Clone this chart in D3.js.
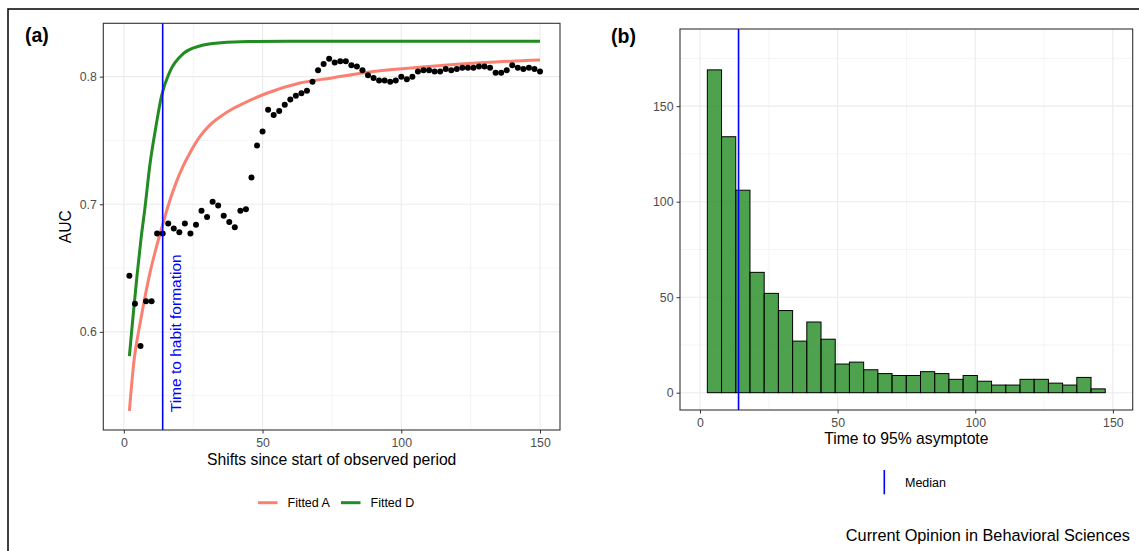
<!DOCTYPE html>
<html>
<head>
<meta charset="utf-8">
<script src="https://cdn.jsdelivr.net/npm/d3@7"></script>
<style>
body { margin: 0; background: #fff; }
svg { font-family: "Liberation Sans", Arial, sans-serif; }
.grid-major { stroke: #ebebeb; stroke-width: 1.1; }
.grid-minor { stroke: #ebebeb; stroke-width: 0.55; }
.axis text { fill: #4d4d4d; font-size: 12.3px; font-family: "Liberation Sans", Arial, sans-serif; }
.axis line { stroke: #333; stroke-width: 1; }
.axis .domain { display: none; }
.panel-border { fill: none; stroke: #333; stroke-width: 1.1; }
.title { fill: #000; font-size: 15.7px; }
.legend-text { fill: #000; font-size: 12.5px; }
</style>
</head>
<body>
<svg id="chart" width="1139" height="551"></svg>
<script>
// ---- panel (a): observed AUC by shift ----
const shifts = [2, 4, 6, 8, 10, 12, 14, 16, 18, 20, 22, 24, 26, 28, 30, 32, 34, 36, 38, 40,
    42, 44, 46, 48, 50, 52, 54, 56, 58, 60, 62, 64, 66, 68, 70, 72, 74, 76, 78, 80,
    82, 84, 86, 88, 90, 92, 94, 96, 98, 100, 102, 104, 106, 108, 110, 112, 114, 116, 118, 120,
    122, 124, 126, 128, 130, 132, 134, 136, 138, 140, 142, 144, 146, 148, 150];
const auc = [0.644, 0.622, 0.589, 0.624, 0.624, 0.677, 0.677, 0.685, 0.681, 0.678,
    0.685, 0.677, 0.684, 0.695, 0.690, 0.702, 0.699, 0.691, 0.686, 0.682,
    0.695, 0.696, 0.721, 0.746, 0.757, 0.774, 0.770, 0.773, 0.778, 0.782,
    0.785, 0.787, 0.789, 0.796, 0.805, 0.810, 0.814, 0.811, 0.812, 0.812,
    0.809, 0.808, 0.805, 0.801, 0.799, 0.797, 0.797, 0.796, 0.797, 0.800,
    0.798, 0.800, 0.804, 0.805, 0.805, 0.804, 0.804, 0.806, 0.805, 0.806,
    0.807, 0.807, 0.807, 0.808, 0.808, 0.807, 0.803, 0.803, 0.805, 0.809,
    0.807, 0.806, 0.807, 0.806, 0.804];

// fitted curves
const fitA_x = [2, 3.7, 5.8, 7.6, 9.4, 11.8, 14, 16, 18.5, 21.4, 24, 27.4, 31, 35, 39.4, 45, 51.5, 63.5, 75, 90, 110, 130, 150];
const fitA_y = [0.538, 0.578, 0.606, 0.627, 0.646, 0.667, 0.684, 0.699, 0.715, 0.730, 0.741, 0.753, 0.762, 0.769, 0.775, 0.781, 0.787, 0.795, 0.799, 0.804, 0.808, 0.811, 0.813];
const fitD_x = [2, 3.4, 4.8, 6.2, 7.6, 9.4, 11.5, 13.6, 16.6, 21.4, 27.4, 35, 45, 60, 100, 150];
const fitD_y = [0.581, 0.614, 0.645, 0.673, 0.697, 0.731, 0.760, 0.785, 0.804, 0.818, 0.824, 0.8265, 0.8275, 0.8277, 0.8277, 0.8277];

const habitTime = 14;
const aXTicks = [0, 50, 100, 150];
const aYTicks = [0.6, 0.7, 0.8];

// ---- panel (b): histogram of time to 95% asymptote ----
const binStart = 2.66;   // first break
const binWidth = 5.163;
const binCounts = [169, 134, 106, 63, 52, 43, 27, 37, 28, 15, 16, 12, 10, 9, 9, 11, 10, 7, 9, 6,
    4, 4, 7, 7, 5, 4, 8, 2];
const medianTime = 14;
const bXTicks = [0, 50, 100, 150];
const bYTicks = [0, 50, 100, 150];

const col = {A: "#fa8072", D: "#228b22", median: "#0000ff"};

const svg = d3.select("#chart");

// outer frame of the figure
svg.append("path")
    .attr("d", "M8,551V9H1139")
    .attr("fill", "none")
    .attr("stroke", "#000")
    .attr("stroke-width", 1.5);

function minorOf(ticks) {
    const out = [];
    for (let i = 0; i < ticks.length - 1; i++) out.push((ticks[i] + ticks[i + 1]) / 2);
    const step = ticks[1] - ticks[0];
    out.unshift(ticks[0] - step / 2);
    out.push(ticks[ticks.length - 1] + step / 2);
    return out;
}

function drawGrid(g, x, y, xTicks, yTicks) {
    const [x0, x1] = x.range();
    const [y0, y1] = y.range();
    const inX = v => x(v) >= x0 && x(v) <= x1;
    const inY = v => y(v) <= y0 && y(v) >= y1;

    g.selectAll(".gx-minor").data(minorOf(xTicks).filter(inX)).join("line")
        .attr("class", "grid-minor")
        .attr("x1", d => x(d)).attr("x2", d => x(d)).attr("y1", y0).attr("y2", y1);
    g.selectAll(".gy-minor").data(minorOf(yTicks).filter(inY)).join("line")
        .attr("class", "grid-minor")
        .attr("y1", d => y(d)).attr("y2", d => y(d)).attr("x1", x0).attr("x2", x1);
    g.selectAll(".gx-major").data(xTicks.filter(inX)).join("line")
        .attr("class", "grid-major")
        .attr("x1", d => x(d)).attr("x2", d => x(d)).attr("y1", y0).attr("y2", y1);
    g.selectAll(".gy-major").data(yTicks.filter(inY)).join("line")
        .attr("class", "grid-major")
        .attr("y1", d => y(d)).attr("y2", d => y(d)).attr("x1", x0).attr("x2", x1);
}

function drawAxes(g, x, y, xTicks, yTicks, yFormat) {
    const [x0] = x.range();
    const [y0] = y.range();
    g.append("g")
        .attr("class", "axis")
        .attr("transform", `translate(0,${y0})`)
        .call(d3.axisBottom(x).tickValues(xTicks).tickSize(3.5).tickPadding(4.5));
    g.append("g")
        .attr("class", "axis")
        .attr("transform", `translate(${x0},0)`)
        .call(d3.axisLeft(y).tickValues(yTicks).tickSize(3.5).tickPadding(3).tickFormat(yFormat));
}

function drawBorder(g, x, y) {
    const [x0, x1] = x.range();
    const [y0, y1] = y.range();
    g.append("rect")
        .attr("class", "panel-border")
        .attr("x", x0).attr("y", y1)
        .attr("width", x1 - x0).attr("height", y0 - y1);
}

// ================= panel (a) =================
const pa = svg.append("g");
const xA = d3.scaleLinear().domain([-7.4, 157.2]).range([103.3, 560]);
const yA = d3.scaleLinear().domain([0.5231, 0.8418]).range([430, 23.3]);

drawGrid(pa, xA, yA, aXTicks, aYTicks);

const line = d3.line()
    .x(d => xA(d[0]))
    .y(d => yA(d[1]))
    .curve(d3.curveMonotoneX);

pa.append("path")
    .datum(d3.zip(fitA_x, fitA_y))
    .attr("d", line)
    .attr("fill", "none")
    .attr("stroke", col.A)
    .attr("stroke-width", 3);

pa.append("path")
    .datum(d3.zip(fitD_x, fitD_y))
    .attr("d", line)
    .attr("fill", "none")
    .attr("stroke", col.D)
    .attr("stroke-width", 3);

pa.selectAll(".pt")
    .data(d3.zip(shifts, auc))
    .join("circle")
    .attr("class", "pt")
    .attr("cx", d => xA(d[0]))
    .attr("cy", d => yA(d[1]))
    .attr("r", 3)
    .attr("fill", "#000");

pa.append("line")
    .attr("x1", xA(habitTime)).attr("x2", xA(habitTime))
    .attr("y1", yA.range()[0]).attr("y2", yA.range()[1])
    .attr("stroke", col.median)
    .attr("stroke-width", 1.6);

pa.append("text")
    .attr("transform", `translate(${xA(habitTime) + 18.5},${yA(0.537)}) rotate(-90)`)
    .attr("fill", col.median)
    .attr("font-size", "15.5px")
    .text("Time to habit formation");

drawBorder(pa, xA, yA);
drawAxes(pa, xA, yA, aXTicks, aYTicks, d3.format(".1f"));

pa.append("text")
    .attr("x", 25).attr("y", 42)
    .attr("font-size", "19.5px").attr("font-weight", "bold")
    .text("(a)");

pa.append("text")
    .attr("class", "title")
    .attr("text-anchor", "middle")
    .attr("x", (xA.range()[0] + xA.range()[1]) / 2)
    .attr("y", 464.5)
    .text("Shifts since start of observed period");

pa.append("text")
    .attr("class", "title")
    .attr("text-anchor", "middle")
    .attr("transform", `translate(71,${(yA.range()[0] + yA.range()[1]) / 2}) rotate(-90)`)
    .text("AUC");

// legend (a)
const legA = pa.append("g").attr("transform", "translate(258,502.7)");
[{name: "Fitted A", c: col.A, dx: 0}, {name: "Fitted D", c: col.D, dx: 83}].forEach(k => {
    legA.append("line")
        .attr("x1", k.dx).attr("x2", k.dx + 19.5)
        .attr("stroke", k.c).attr("stroke-width", 3);
    legA.append("text")
        .attr("class", "legend-text")
        .attr("x", k.dx + 29.5).attr("y", 4.4)
        .text(k.name);
});

// ================= panel (b) =================
const pb = svg.append("g");
const xB = d3.scaleLinear().domain([-7.27, 157.2]).range([680, 1132.7]);
const yB = d3.scaleLinear().domain([-9.06, 190.4]).range([410, 29]);

drawGrid(pb, xB, yB, bXTicks, bYTicks);

const bins = binCounts.map((n, i) => ({x0: binStart + i * binWidth, x1: binStart + (i + 1) * binWidth, n}));

pb.selectAll(".bar")
    .data(bins)
    .join("rect")
    .attr("class", "bar")
    .attr("x", d => xB(d.x0))
    .attr("width", d => xB(d.x1) - xB(d.x0))
    .attr("y", d => yB(d.n))
    .attr("height", d => yB(0) - yB(d.n))
    .attr("fill", col.D)
    .attr("fill-opacity", 0.8)
    .attr("stroke", "#000")
    .attr("stroke-width", 1);

pb.append("line")
    .attr("x1", xB(medianTime)).attr("x2", xB(medianTime))
    .attr("y1", yB.range()[0]).attr("y2", yB.range()[1])
    .attr("stroke", col.median)
    .attr("stroke-width", 1.6);

drawBorder(pb, xB, yB);
drawAxes(pb, xB, yB, bXTicks, bYTicks, d3.format("d"));

pb.append("text")
    .attr("x", 611).attr("y", 42.5)
    .attr("font-size", "19.5px").attr("font-weight", "bold")
    .text("(b)");

pb.append("text")
    .attr("class", "title")
    .attr("text-anchor", "middle")
    .attr("x", (xB.range()[0] + xB.range()[1]) / 2)
    .attr("y", 444.3)
    .text("Time to 95% asymptote");

// legend (b)
pb.append("line")
    .attr("x1", 884.3).attr("x2", 884.3)
    .attr("y1", 470).attr("y2", 494.3)
    .attr("stroke", col.median).attr("stroke-width", 1.6);
pb.append("text")
    .attr("class", "legend-text")
    .attr("x", 905).attr("y", 486.7)
    .text("Median");

svg.append("text")
    .attr("text-anchor", "end")
    .attr("x", 1130).attr("y", 540.7)
    .attr("font-size", "16.3px")
    .text("Current Opinion in Behavioral Sciences");
</script>
</body>
</html>
